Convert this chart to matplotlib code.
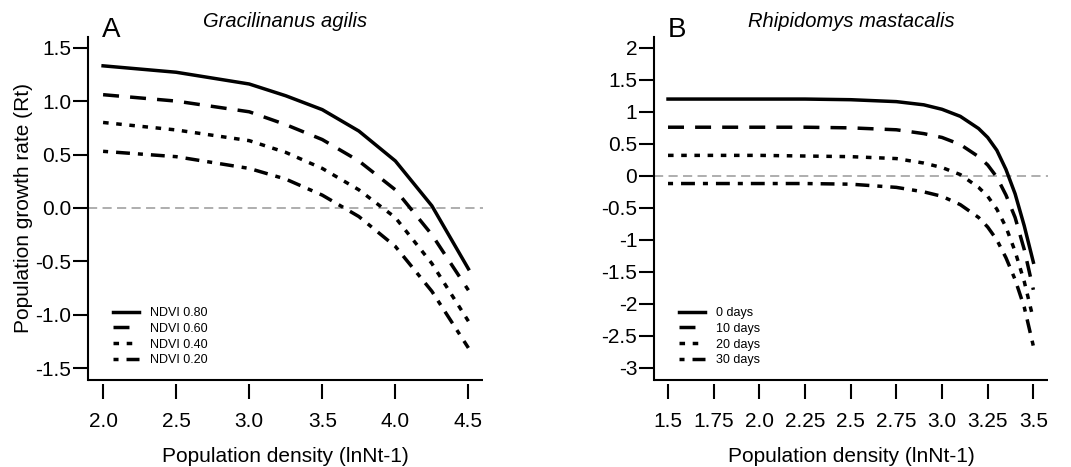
import numpy as np
import matplotlib.pyplot as plt

plt.rcParams['font.family'] = ['Liberation Sans', 'DejaVu Sans']

# Panel A: Gracilinanus agilis
xa = [2.0, 2.5, 3.0, 3.25, 3.5, 3.75, 4.0, 4.25, 4.5]
ndvi_labels = ['NDVI 0.80', 'NDVI 0.60', 'NDVI 0.40', 'NDVI 0.20']
ya_080 = [1.33, 1.27, 1.16, 1.05, 0.92, 0.72, 0.44, 0.02, -0.57]
ya_060 = [1.06, 1.00, 0.90, 0.78, 0.64, 0.44, 0.17, -0.25, -0.77]
ya_040 = [0.80, 0.73, 0.63, 0.52, 0.37, 0.17, -0.09, -0.52, -1.06]
ya_020 = [0.53, 0.48, 0.37, 0.27, 0.12, -0.08, -0.36, -0.78, -1.31]

# Panel B: Rhipidomys mastacalis
xb = [1.5, 1.75, 2.0, 2.25, 2.5, 2.75, 2.9, 3.0, 3.1, 3.2, 3.25, 3.3, 3.35, 3.4, 3.45, 3.5]
day_labels = ['0 days', '10 days', '20 days', '30 days']
yb_0 = [1.20, 1.20, 1.20, 1.20, 1.19, 1.16, 1.11, 1.04, 0.93, 0.74, 0.60, 0.40, 0.10, -0.28, -0.78, -1.35]
yb_10 = [0.76, 0.76, 0.76, 0.76, 0.75, 0.72, 0.66, 0.60, 0.49, 0.30, 0.17, -0.02, -0.30, -0.65, -1.15, -1.78]
yb_20 = [0.32, 0.32, 0.32, 0.31, 0.30, 0.27, 0.20, 0.13, 0.02, -0.18, -0.32, -0.52, -0.80, -1.18, -1.65, -2.24]
yb_30 = [-0.12, -0.12, -0.12, -0.12, -0.13, -0.18, -0.25, -0.32, -0.45, -0.65, -0.80, -1.00, -1.28, -1.62, -2.05, -2.66]

xticks_a = [2.0, 2.5, 3.0, 3.5, 4.0, 4.5]
xticklabels_a = ['2.0', '2.5', '3.0', '3.5', '4.0', '4.5']
yticks_a = [1.5, 1.0, 0.5, 0.0, -0.5, -1.0, -1.5]
yticklabels_a = ['1.5', '1.0', '0.5', '0.0', '-0.5', '-1.0', '-1.5']
xticks_b = [1.5, 1.75, 2.0, 2.25, 2.5, 2.75, 3.0, 3.25, 3.5]
xticklabels_b = ['1.5', '1.75', '2.0', '2.25', '2.5', '2.75', '3.0', '3.25', '3.5']
yticks_b = [2, 1.5, 1, 0.5, 0, -0.5, -1, -1.5, -2, -2.5, -3]
yticklabels_b = ['2', '1.5', '1', '0.5', '0', '-0.5', '-1', '-1.5', '-2', '-2.5', '-3']

# line styles (solid, dashed, dotted, dot-dash), dash units scale with lw
styles = ['-', (0, (4.6, 3.2)), (0, (1.6, 2.2)), (0, (1.45, 2.3, 4.0, 2.3))]
lw = 2.5

fig = plt.figure(figsize=(10.71, 4.67), dpi=100)
axA = fig.add_axes([0.0822, 0.1863, 0.3688, 0.7345])
axB = fig.add_axes([0.6106, 0.1863, 0.3679, 0.7345])


def style_axes(ax, xlim, ylim, xt, xtl, yt, ytl):
    ax.set_xlim(*xlim)
    ax.set_ylim(*ylim)
    ax.axhline(0, color='#999999', lw=1.1, dashes=(6, 3.5), zorder=1)
    for s in ['top', 'right']:
        ax.spines[s].set_visible(False)
    ax.spines['left'].set_linewidth(1.5)
    # ticks hang slightly below the bottom axis line
    ax.spines['bottom'].set_position(('outward', 3))
    ax.spines['bottom'].set_visible(False)
    ax.plot([0, 1], [0, 0], transform=ax.transAxes, color='k', lw=1.5,
            clip_on=False, solid_capstyle='butt')
    ax.set_xticks(xt)
    ax.set_xticklabels(xtl)
    ax.set_yticks(yt)
    ax.set_yticklabels(ytl)
    ax.tick_params(axis='y', length=11, width=1.5, pad=1, labelsize=15)
    ax.tick_params(axis='x', length=11, width=1.5, pad=9, labelsize=15)
    ax.set_xlabel('Population density (lnNt-1)', fontsize=15)
    ax.xaxis.set_label_coords(0.5, -0.195)


style_axes(axA, (1.897, 4.60), (-1.61, 1.60), xticks_a, xticklabels_a, yticks_a, yticklabels_a)
style_axes(axB, (1.423, 3.58), (-3.19, 2.17), xticks_b, xticklabels_b, yticks_b, yticklabels_b)

for y, ls, lab in zip([ya_080, ya_060, ya_040, ya_020], styles, ndvi_labels):
    axA.plot(xa, y, color='k', lw=lw, linestyle=ls, label=lab, zorder=3)
for y, ls, lab in zip([yb_0, yb_10, yb_20, yb_30], styles, day_labels):
    axB.plot(xb, y, color='k', lw=lw, linestyle=ls, label=lab, zorder=3)

axA.set_ylabel('Population growth rate (Rt)', fontsize=15)
axA.yaxis.set_label_coords(-0.14, 0.5)

for ax, letter, title in [(axA, 'A', 'Gracilinanus agilis'),
                          (axB, 'B', 'Rhipidomys mastacalis')]:
    ax.legend(loc='lower left', bbox_to_anchor=(0.063, 0.04), frameon=False,
              fontsize=9, handlelength=2.1, handletextpad=0.9,
              labelspacing=0.3, borderpad=0, borderaxespad=0)
    ax.text(0.035, 1.0, letter, transform=ax.transAxes, fontsize=20,
            ha='left', va='baseline')
    ax.text(0.5, 1.045, title, transform=ax.transAxes, fontsize=14.5,
            style='italic', ha='center', va='center')

fig.savefig('out.png', dpi=100, facecolor='white')
